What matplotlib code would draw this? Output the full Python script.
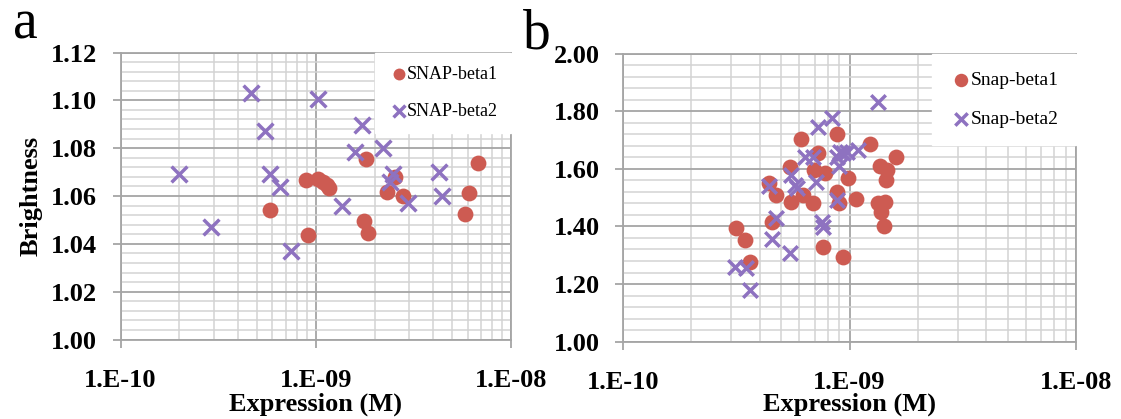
import matplotlib.pyplot as plt
from matplotlib.ticker import LogLocator, MultipleLocator, NullFormatter

plt.rcParams['font.family'] = ['Liberation Serif', 'DejaVu Serif']

# ---- panel a: SNAP ----
a_beta1_x = [5.8e-10, 8.96e-10, 9.14e-10, 1.03e-9, 1.09e-9, 1.135e-9, 1.17e-9, 1.8e-9,
             1.77e-9, 1.86e-9, 2.31e-9, 2.55e-9, 2.81e-9, 5.8e-9, 6.12e-9, 6.76e-9]
a_beta1_y = [1.0541, 1.0666, 1.0437, 1.0673, 1.0659, 1.0645, 1.0632, 1.0753,
             1.0496, 1.0444, 1.0617, 1.0680, 1.0600, 1.0523, 1.0613, 1.0740]
a_beta2_x = [2.0e-10, 2.91e-10, 4.67e-10, 5.47e-10, 5.85e-10, 6.53e-10, 7.5e-10, 1.03e-9,
             1.365e-9, 1.585e-9, 1.73e-9, 2.2e-9, 2.4e-9, 2.48e-9, 2.95e-9, 4.3e-9, 4.43e-9]
a_beta2_y = [1.0694, 1.0469, 1.1031, 1.0871, 1.0691, 1.0638, 1.0370, 1.1005,
             1.0559, 1.0785, 1.0896, 1.0799, 1.0659, 1.0694, 1.0571, 1.0701, 1.0600]

# ---- panel b: Snap ----
b_beta1_x = [3.14e-10, 3.45e-10, 3.63e-10, 4.42e-10, 4.73e-10, 4.52e-10, 5.45e-10, 5.49e-10,
             6.1e-10, 6.24e-10, 6.9e-10, 7.27e-10, 6.95e-10, 7.6e-10, 7.78e-10, 8.82e-10,
             8.77e-10, 9.0e-10, 9.31e-10, 9.86e-10, 1.067e-9, 1.23e-9, 1.36e-9, 1.456e-9,
             1.445e-9, 1.61e-9, 1.34e-9, 1.43e-9, 1.38e-9, 1.42e-9]
b_beta1_y = [1.393, 1.353, 1.276, 1.552, 1.509, 1.414, 1.607, 1.484,
             1.702, 1.509, 1.480, 1.654, 1.596, 1.330, 1.584, 1.721,
             1.520, 1.480, 1.293, 1.567, 1.494, 1.685, 1.610, 1.596,
             1.561, 1.640, 1.480, 1.486, 1.451, 1.403]
b_beta2_x = [3.11e-10, 3.48e-10, 3.63e-10, 4.42e-10, 4.52e-10, 4.72e-10, 5.45e-10, 5.49e-10,
             5.73e-10, 5.83e-10, 6.36e-10, 6.9e-10, 7.1e-10, 7.27e-10, 8.32e-10, 7.52e-10,
             7.64e-10, 8.77e-10, 8.82e-10, 9.06e-10, 9.37e-10, 9.0e-10, 9.7e-10, 1.09e-9, 1.34e-9]
b_beta2_y = [1.258, 1.255, 1.179, 1.540, 1.356, 1.430, 1.309, 1.578,
             1.544, 1.532, 1.642, 1.642, 1.555, 1.746, 1.775, 1.416,
             1.399, 1.492, 1.642, 1.659, 1.654, 1.610, 1.659, 1.665, 1.833]

xtick_vals = [1e-10, 1e-9, 1e-8]
xtick_labels = ['1.E-10', '1.E-09', '1.E-08']

red = '#CD5B52'
purple = '#8E72C0'
major_grey = '#A5A5A5'
minor_grey = '#D3D3D3'

fig = plt.figure(figsize=(11.21, 4.19), dpi=100)
ax1 = fig.add_axes([0.1075, 0.1897, 0.3484, 0.685])
ax2 = fig.add_axes([0.556, 0.1845, 0.4038, 0.6878])


def style_axis(ax, ylim, ymajor, yminor, yfmt, xlabel_y):
    ax.set_xscale('log')
    ax.set_xlim(1e-10, 1e-8)
    ax.set_ylim(*ylim)
    ax.set_xticks(xtick_vals)
    ax.set_xticklabels(xtick_labels)
    ax.xaxis.set_minor_locator(LogLocator(base=10, subs=range(2, 10)))
    ax.xaxis.set_minor_formatter(NullFormatter())
    ax.yaxis.set_major_locator(MultipleLocator(ymajor))
    ax.yaxis.set_minor_locator(MultipleLocator(yminor))
    ax.yaxis.set_major_formatter(lambda v, p: yfmt.format(v))
    ax.set_axisbelow(True)
    ax.grid(which='major', color=major_grey, linewidth=1.3)
    ax.grid(which='minor', color=minor_grey, linewidth=1.1)
    for s in ax.spines.values():
        s.set_color(major_grey)
        s.set_linewidth(1.3)
    ax.tick_params(which='major', direction='out', length=6, width=1.3,
                   color=major_grey, labelsize=19)
    ax.tick_params(axis='x', which='major', pad=15)
    ax.tick_params(axis='y', which='major', pad=11)
    ax.tick_params(which='minor', length=0)
    for lab in ax.get_xticklabels() + ax.get_yticklabels():
        lab.set_fontweight('bold')
    ax.set_xlabel('Expression (M)', fontsize=19, fontweight='bold')
    ax.xaxis.set_label_coords(0.5, xlabel_y)


style_axis(ax1, (1.00, 1.12), 0.02, 0.004, '{:.2f}', -0.185)
style_axis(ax2, (1.00, 2.00), 0.2, 0.04, '{:.2f}', -0.178)

ax1.scatter(a_beta1_x, a_beta1_y, s=130, color=red, marker='o', linewidths=0,
            label='SNAP-beta1', zorder=3)
ax1.scatter(a_beta2_x, a_beta2_y, s=130, color=purple, marker='x', linewidths=2.5,
            label='SNAP-beta2', zorder=3)
ax2.scatter(b_beta1_x, b_beta1_y, s=130, color=red, marker='o', linewidths=0,
            label='Snap-beta1', zorder=3)
ax2.scatter(b_beta2_x, b_beta2_y, s=110, color=purple, marker='x', linewidths=2.5,
            label='Snap-beta2', zorder=3)

ax1.set_ylabel('Brightness', fontsize=19, fontweight='bold')
ax1.yaxis.set_label_coords(-0.2, 0.5)

leg1 = ax1.legend(loc='upper right', bbox_to_anchor=(1.0, 1.0), borderaxespad=0,
                  fontsize=13, frameon=True, fancybox=False, framealpha=1,
                  edgecolor='white', facecolor='white', handletextpad=-0.2,
                  handlelength=1.2, labelspacing=1.1, borderpad=0.75, markerscale=0.75)
leg2 = ax2.legend(loc='upper right', bbox_to_anchor=(1.0, 1.0), borderaxespad=0,
                  fontsize=14, frameon=True, fancybox=False, framealpha=1,
                  edgecolor='white', facecolor='white', handletextpad=-0.1,
                  handlelength=1.2, labelspacing=1.1, borderpad=0.9, markerscale=0.85)

fig.text(0.0116, 0.909, 'a', fontsize=40, va='baseline', ha='left')
fig.text(0.4666, 0.885, 'b', fontsize=40, va='baseline', ha='left')

fig.savefig('out.png', dpi=100)
